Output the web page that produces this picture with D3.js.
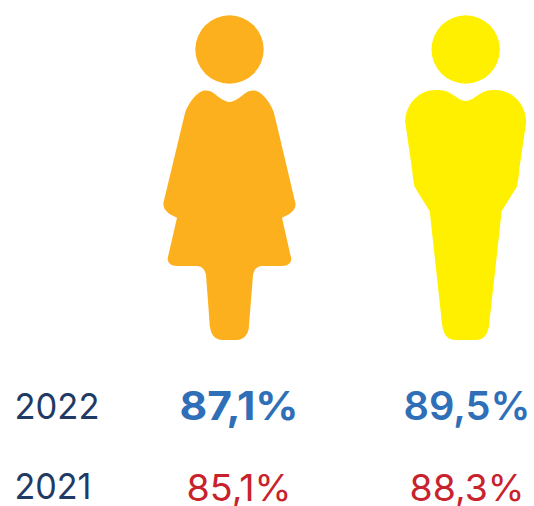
<!DOCTYPE html>
<html><head><meta charset="utf-8">
<script src="https://cdnjs.cloudflare.com/ajax/libs/d3/7.8.5/d3.min.js"></script>
<style>html,body{margin:0;padding:0;background:#fff}svg{display:block}text{font-family:Inter,"Open Sans",sans-serif}</style>
</head><body><svg id="c" width="534" height="506"></svg>
<script>
const groups = ["women", "men"];
const years = ["2022", "2021"];
const values2022 = [87.1, 89.5];
const values2021 = [85.1, 88.3];
const weights2022 = [700, 600];
const figureColors = ["#FDB01E", "#FFF000"];
const yearColor = "#1F3A64", color2022 = "#2F6FB7", color2021 = "#C8232C";

// pictogram outlines, in icon units relative to the head's axis: [x,y] start, then cubic segments
const womanRight = [[0,102],[5,102,12,96,16,93],[20,90.5,24,90,27,91],[34,93,42,105,44.5,113],[66,203,66,203,66,203],[67,210,60,215,52.5,217.7],[61.5,257,61.5,257,61.5,257],[63,263,58,266,53,266],[33,266,33,266,33,266],[27,266,24.5,270,23.5,275],[19.5,327,19.5,327,19.5,327],[18.5,335,14,340,7,340],[0,340,0,340,0,340]];
const manRight = [[0,101],[5,101,9,97,14,94],[20,90,25,90,30,90],[46,90,60,103,60.5,122],[53.5,170,53.5,170,53.5,170],[53,178,52,183,51,187],[36,211,36,211,36,211],[23.5,325,23.5,325,23.5,325],[22,335,18,340,10,340],[0,340,0,340,0,340]];
const outlines = [womanRight, manRight];

const svg = d3.select("#c");
const x = d3.scaleOrdinal().domain(groups).range([229.5, 465.7]);
const yRow = d3.scaleOrdinal().domain(years).range([420, 500.5]);
const labelW = {"2022":[119,127], "2021":[105,115]};
const labelFit = {"2022":[179.5,403.5], "2021":[186.5,409.5]};

function figurePath(half, cx) {
  const p = d3.path();
  p.moveTo(cx + half[0][0], half[0][1]);
  half.slice(1).forEach(s => p.bezierCurveTo(cx+s[0], s[1], cx+s[2], s[3], cx+s[4], s[5]));
  // mirror back up the left side
  for (let i = half.length - 1; i > 0; i--) {
    const s = half[i], prev = half[i-1];
    const px = prev.length === 2 ? prev[0] : prev[4], py = prev.length === 2 ? prev[1] : prev[5];
    p.bezierCurveTo(cx-s[2], s[3], cx-s[0], s[1], cx-px, py);
  }
  p.closePath();
  return p.toString();
}

const fig = svg.selectAll("g.fig").data(groups).join("g").attr("class","fig").attr("fill",(d,i)=>figureColors[i]);
fig.append("circle").attr("cx",d=>x(d)).attr("cy",49.5).attr("r",34.2);
fig.append("path").attr("d",(d,i)=>figurePath(outlines[i],x(d)));

const fmt = v => v.toFixed(1).replace(".",",") + "%";
svg.selectAll("text.year").data(years).join("text").attr("class","year")
  .attr("x",14.5).attr("y",d=>yRow(d)-1.5).attr("fill",yearColor)
  .attr("font-size",36).attr("font-weight",400)
  .attr("textLength",d=>d==="2022"?85:77).attr("lengthAdjust","spacingAndGlyphs").text(d=>d);

[[ "2022", values2022, color2022, weights2022, 40 ], [ "2021", values2021, color2021, [400,400], 37 ]].forEach(([yr,vals,col,w,fs])=>{
  svg.selectAll("text.v"+yr).data(vals).join("text").attr("class","v"+yr)
    .attr("x",(d,i)=>labelFit[yr][i]).attr("y",yRow(yr)).attr("fill",col)
    .attr("font-size",fs).attr("font-weight",(d,i)=>w[i])
    .attr("textLength",(d,i)=>labelW[yr][i]).attr("lengthAdjust","spacingAndGlyphs").text(fmt);
});
</script></body></html>
